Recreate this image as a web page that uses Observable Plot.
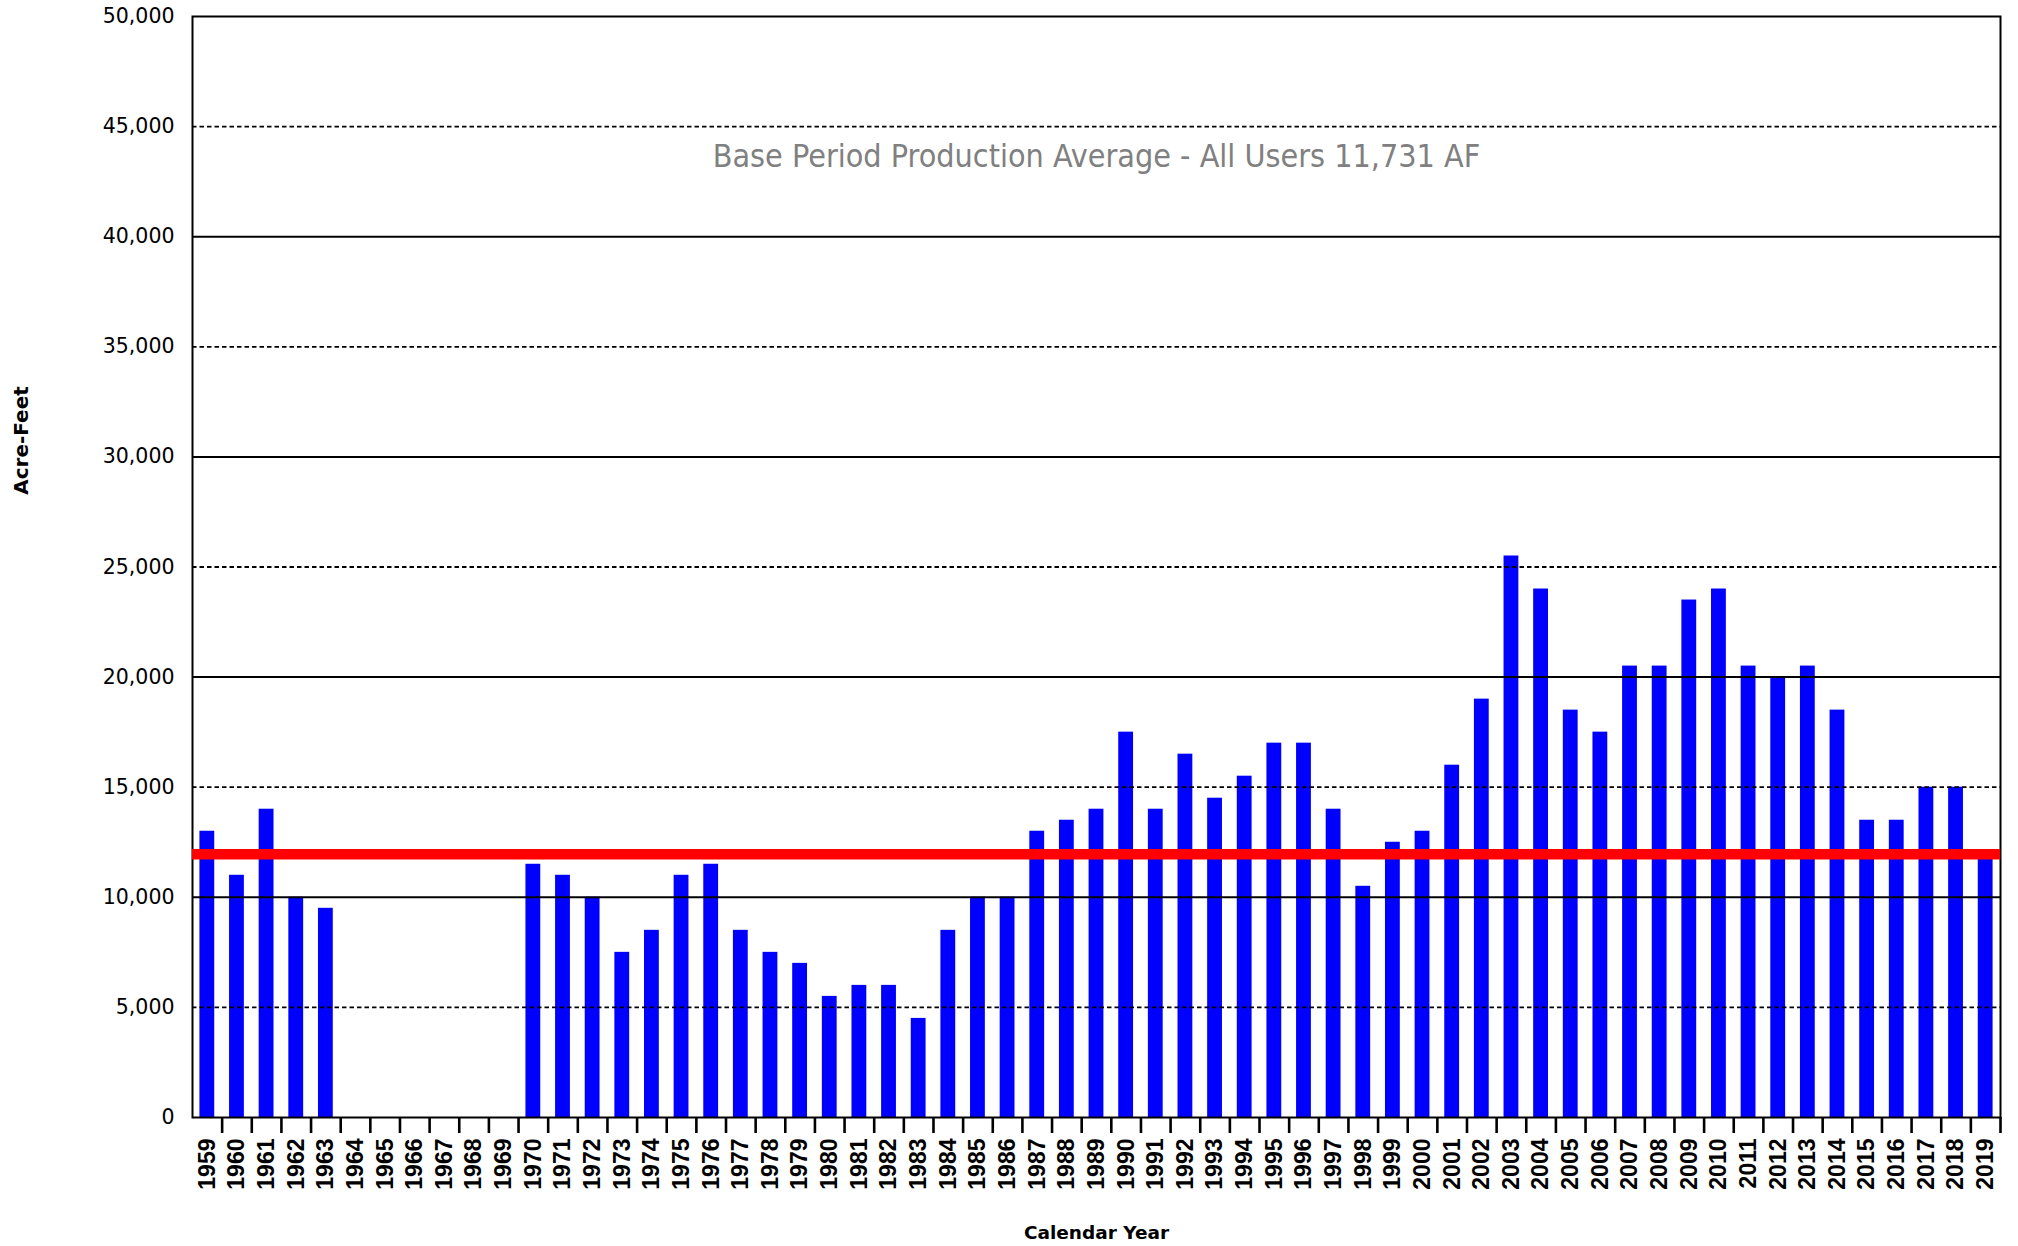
<!DOCTYPE html>
<html>
<head>
<meta charset="utf-8">
<script src="https://cdn.jsdelivr.net/npm/d3@7"></script>
<script src="https://cdn.jsdelivr.net/npm/@observablehq/plot@0.6"></script>
<style>
  html, body { margin: 0; padding: 0; background: #fff; }
  #chart { width: 2018px; height: 1246px; }
</style>
</head>
<body>
<div id="chart"></div>
<script>
// ---- data ----
const years = d3.range(1959, 2020);
const production = [
  13000, 11000, 14000, 10000, 9500,            // 1959-1963
  null, null, null, null, null, null,          // 1964-1969 (no data)
  11500, 11000, 10000, 7500, 8500, 11000, 11500, 8500, 7500, 7000, // 1970-1979
  5500, 6000, 6000, 4500, 8500, 10000, 10000, 13000, 13500, 14000, // 1980-1989
  17500, 14000, 16500, 14500, 15500, 17000, 17000, 14000, 10500, 12500, // 1990-1999
  13000, 16000, 19000, 25500, 24000, 18500, 17500, 20500, 20500, 23500, // 2000-2009
  24000, 20500, 20000, 20500, 18500, 13500, 13500, 15000, 15000, 11800  // 2010-2019
];
const basePeriodAverage = 11731;
const annotationLabel = "Base Period Production Average - All Users 11,731 AF";
const yTitle = "Acre-Feet";
const xTitle = "Calendar Year";
const yTicks = d3.range(0, 50001, 5000);
const solidGrid = [10000, 20000, 30000, 40000];
const dashedGrid = [5000, 15000, 25000, 35000, 45000];

const data = years.map((year, i) => ({year, value: production[i]}))
  .filter(d => d.value != null);
const tickBoundaries = d3.range(years[0] + 0.5, years[years.length - 1] + 0.51, 1);

const chart = Plot.plot({
  width: 2018,
  height: 1246,
  marginLeft: 192,
  marginRight: 18,
  marginTop: 16,
  marginBottom: 129,
  style: {fontFamily: "DejaVu Sans", background: "#fff", color: "black"},
  x: {type: "linear", domain: [years[0] - 0.5, years[years.length - 1] + 0.5]},
  y: {domain: [0, 50000]},
  marks: [
    Plot.rectY(data, {
      x1: d => d.year - 0.25,
      x2: d => d.year + 0.25,
      y: "value",
      fill: "#0000ff"
    }),
    Plot.ruleY(dashedGrid, {stroke: "black", strokeWidth: 1.8, strokeDasharray: "4.5,3"}),
    Plot.ruleY(solidGrid, {stroke: "black", strokeWidth: 2}),
    Plot.frame({stroke: "black", strokeWidth: 2}),
    Plot.ruleY([basePeriodAverage], {stroke: "#ff0000", strokeWidth: 10.5, dy: -5}),
    Plot.axisY({
      ticks: yTicks,
      tickFormat: d3.format(","),
      tickSize: 0,
      tickPadding: 18,
      fontSize: 20.5,
      fontFamily: "DejaVu Sans",
      label: null
    }),
    Plot.axisX({
      ticks: tickBoundaries,
      tickFormat: () => "",
      tickSize: 16,
      strokeWidth: 2.6,
      label: null
    }),
    Plot.axisX({
      ticks: years,
      tickFormat: d => String(d),
      tickSize: 0,
      tickPadding: 21,
      tickRotate: -90,
      fontSize: 23,
      fontWeight: "bold",
      fontFamily: "Liberation Sans",
      label: null
    }),
    Plot.text([annotationLabel], {
      frameAnchor: "top",
      dy: 140,
      lineAnchor: "middle",
      textAnchor: "middle",
      fontSize: 32,
      fontFamily: "DejaVu Sans Condensed, DejaVu Sans",
      fontStretch: "condensed",
      fill: "#808080"
    }),
    Plot.text([yTitle], {
      frameAnchor: "top-left",
      dx: -171,
      dy: 424,
      rotate: -90,
      textAnchor: "middle",
      lineAnchor: "middle",
      fontSize: 20,
      fontWeight: "bold",
      fill: "black"
    }),
    Plot.text([xTitle], {
      frameAnchor: "bottom",
      dy: 116,
      lineAnchor: "middle",
      textAnchor: "middle",
      fontSize: 18.5,
      fontWeight: "bold",
      fill: "black"
    })
  ]
});
document.getElementById("chart").append(chart);
</script>
</body>
</html>
